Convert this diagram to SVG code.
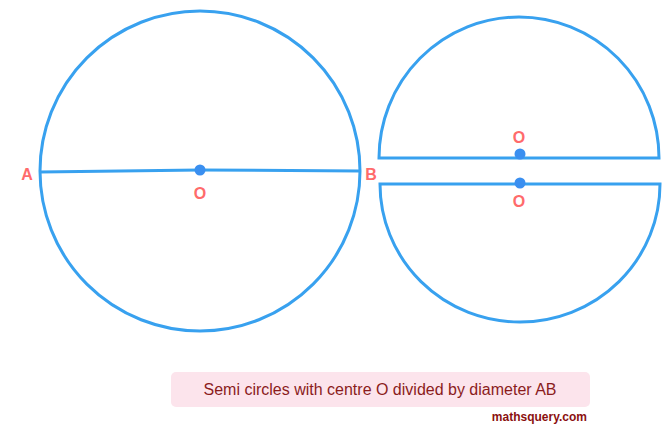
<svg xmlns="http://www.w3.org/2000/svg" width="672" height="438" viewBox="0 0 672 438">
<style>
.ln{fill:none;stroke:#38a1ef;stroke-width:3;stroke-linejoin:miter}
.dot{fill:#3a8ff0}
.lb{font-family:"Liberation Sans",Arial,sans-serif;font-weight:bold;font-size:16px;fill:#ff6b6b;text-anchor:middle}
.cap{font-family:"Liberation Sans",Arial,sans-serif;font-size:16px;fill:#8b1c1c;text-anchor:middle}
.wm{font-family:"Liberation Sans",Arial,sans-serif;font-size:12px;font-weight:bold;fill:#8b1010;text-anchor:end}
</style>
<rect width="672" height="438" fill="#fff"/>
<g id="circle">
<circle class="ln" cx="200" cy="171" r="160"/>
<polyline class="ln" points="40,172 200,170 360,171"/>
<circle class="dot" cx="200" cy="170" r="5.5"/>
<text class="lb" x="27" y="180">A</text>
<text class="lb" x="371" y="180">B</text>
<text class="lb" x="200" y="199">O</text>
</g>
<g id="upper-semicircle">
<path class="ln" d="M379,158 A140,141 0 0 1 659,158 Z"/>
<circle class="dot" cx="520" cy="154" r="5.5"/>
<text class="lb" x="519" y="143">O</text>
</g>
<g id="lower-semicircle">
<path class="ln" d="M380,184 L660,184 A140,138 0 0 1 380,184 Z"/>
<circle class="dot" cx="520" cy="183" r="5.5"/>
<text class="lb" x="519" y="207">O</text>
</g>
<g id="caption">
<rect x="171" y="372" width="419" height="35" rx="5" fill="#fce4ec"/>
<text class="cap" x="380" y="395">Semi circles with centre O divided by diameter AB</text>
<text class="wm" x="587" y="421">mathsquery.com</text>
</g>
</svg>
